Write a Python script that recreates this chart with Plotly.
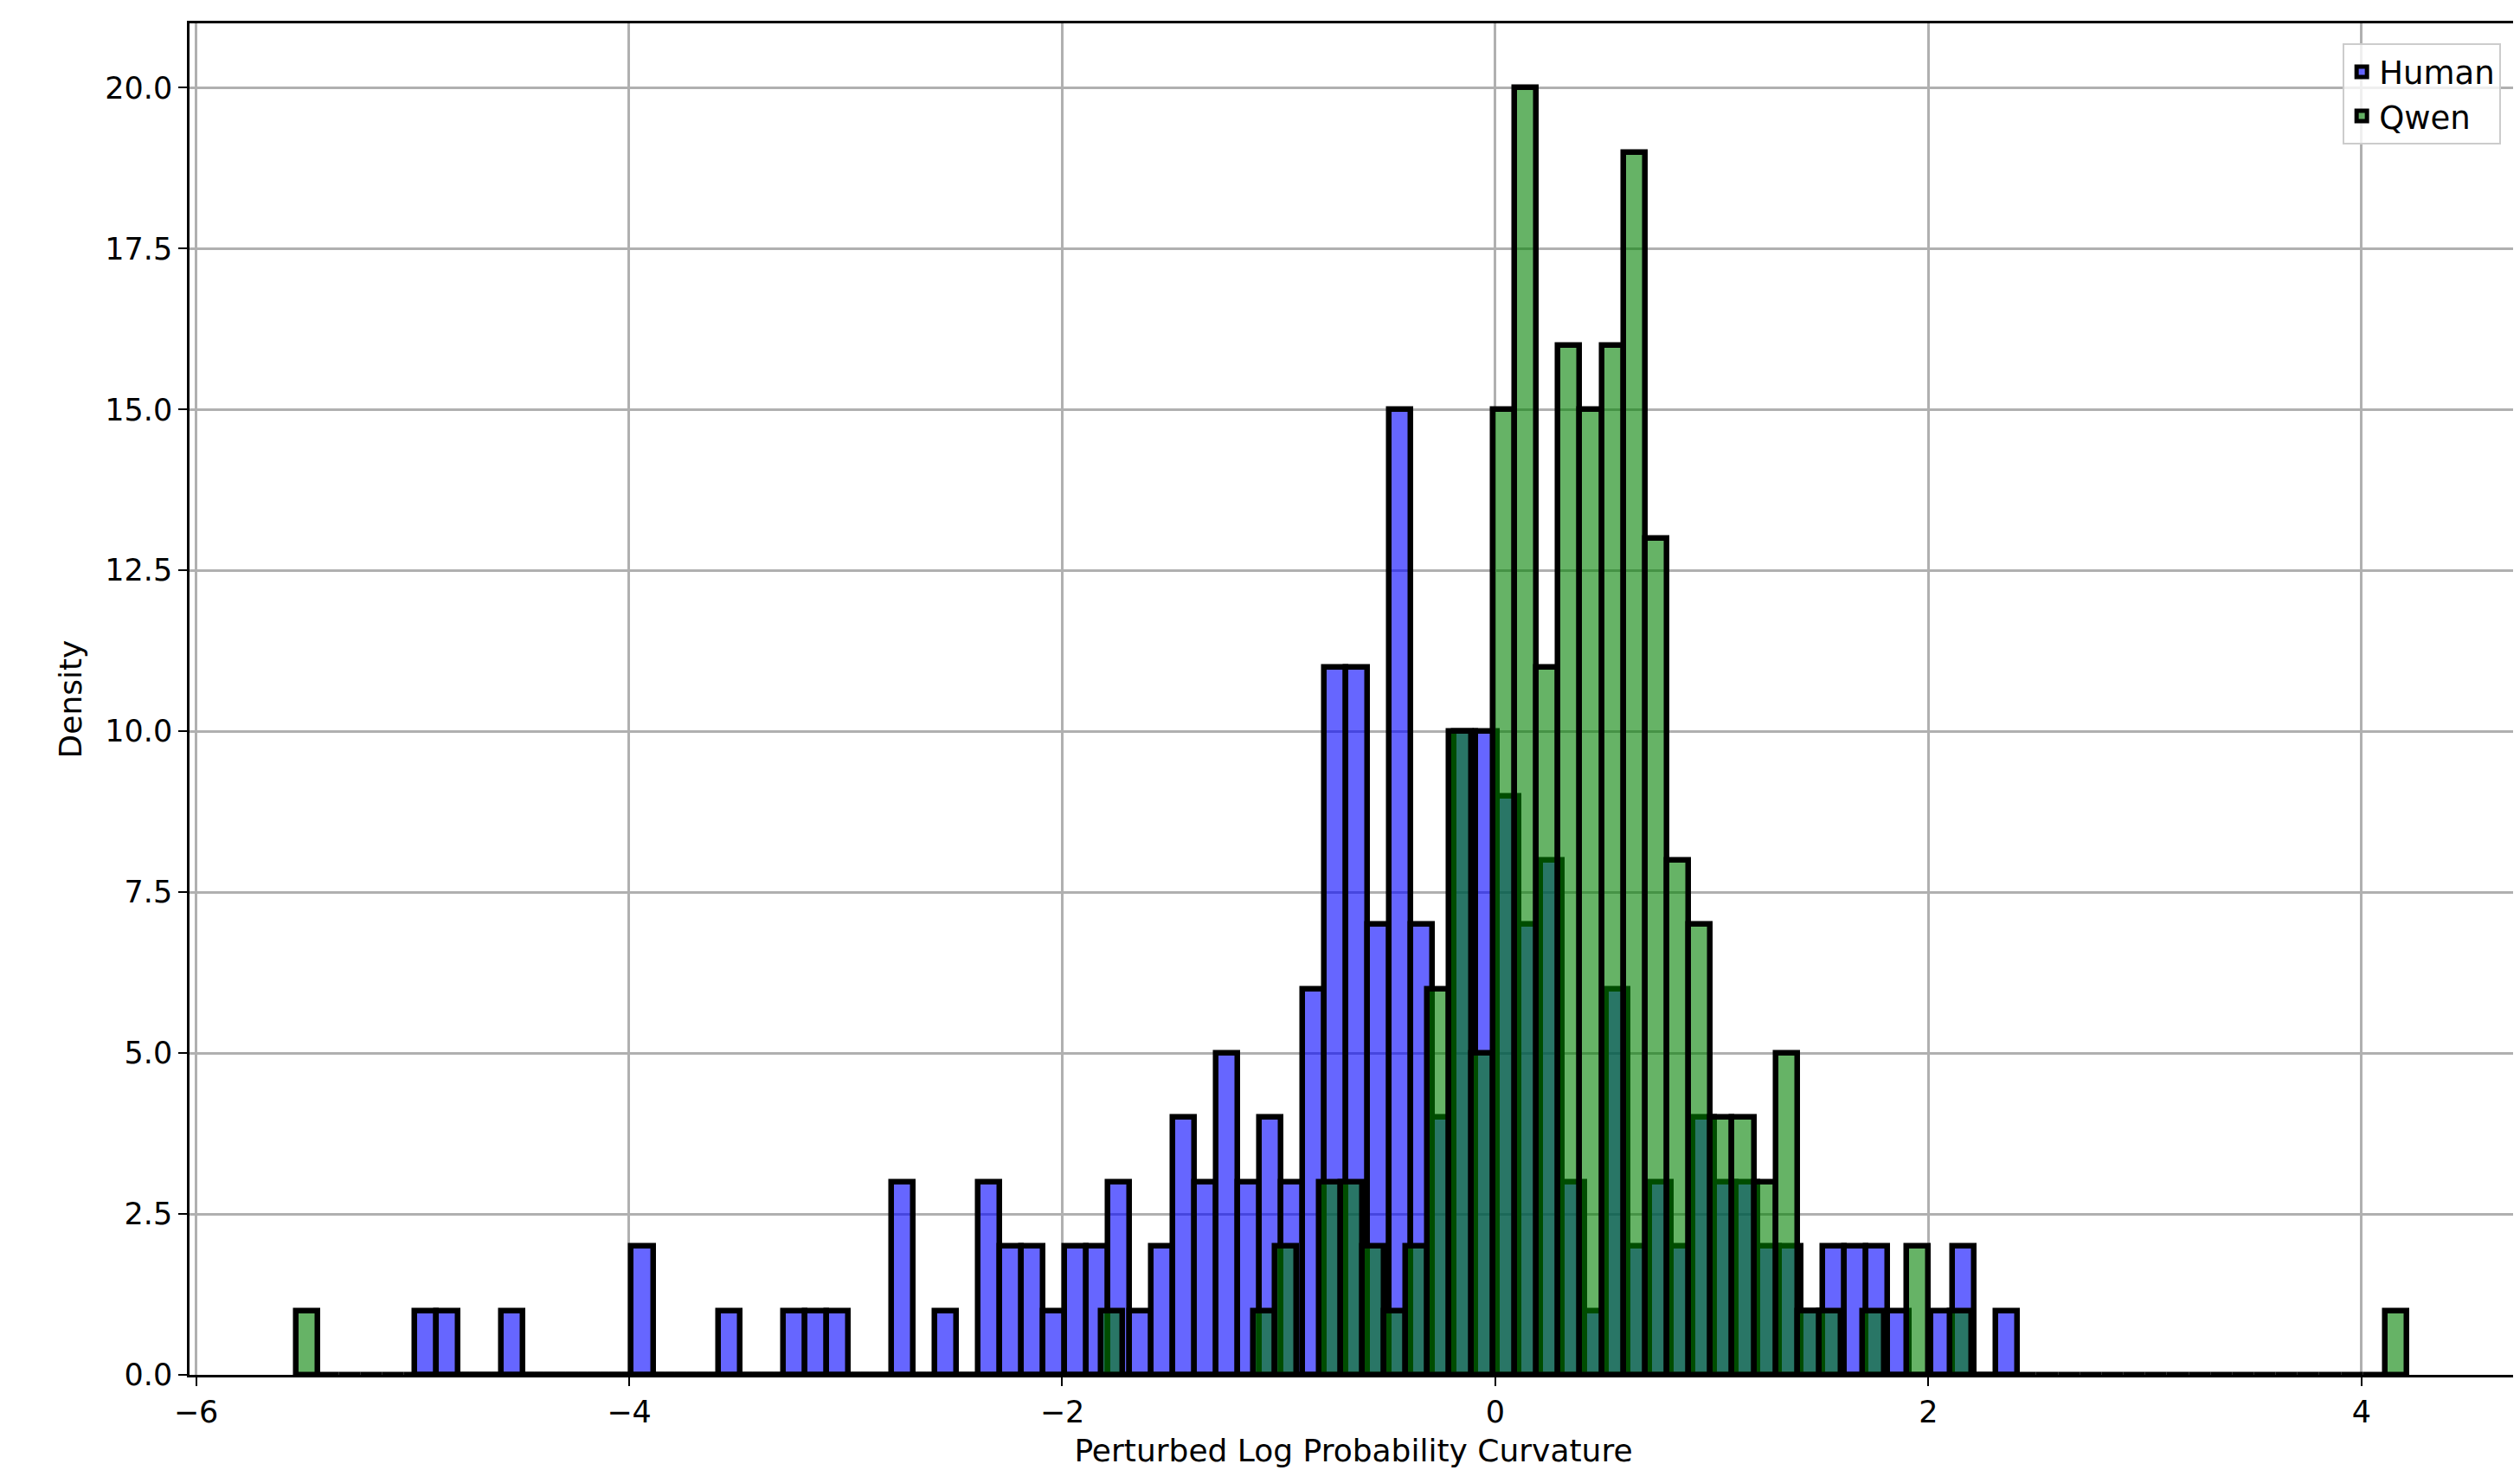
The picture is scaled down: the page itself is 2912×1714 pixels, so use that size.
import plotly.graph_objects as go

# Human histogram: bin start, width, counts
human_start = -4.99
human_width = 0.1
human_counts = [1, 1, 0, 0, 1, 0, 0, 0, 0, 0, 2, 0, 0, 0, 1, 0, 0, 1, 1, 1,
                0, 0, 3, 0, 1, 0, 3, 2, 2, 1, 2, 2, 3, 1, 2, 4, 3, 5, 3, 4,
                3, 6, 11, 11, 7, 15, 7, 4, 10, 10, 9, 7, 8, 3, 1, 6, 2, 3, 2, 4,
                3, 3, 2, 2, 1, 2, 2, 2, 1, 0, 1, 2, 0, 1]

# Qwen histogram
qwen_start = -5.54
qwen_width = 0.1005
qwen_nonzero = {0: 1, 37: 1, 44: 1, 45: 2, 47: 3, 48: 3, 49: 2, 50: 1, 51: 2, 52: 6,
                53: 10, 54: 5, 55: 15, 56: 20, 57: 11, 58: 16, 59: 15, 60: 16, 61: 19,
                62: 13, 63: 8, 64: 7, 65: 4, 66: 4, 67: 3, 68: 5, 69: 1, 70: 1, 72: 1,
                74: 2, 76: 1, 96: 1}
qwen_counts = [qwen_nonzero.get(i, 0) for i in range(97)]

x_ticks = [-6, -4, -2, 0, 2, 4]
y_ticks = [0, 2.5, 5, 7.5, 10, 12.5, 15, 17.5, 20]

def centers(start, width, n):
    return [start + width * (i + 0.5) for i in range(n)]

fig = go.Figure()
fig.add_trace(go.Bar(
    x=centers(human_start, human_width, len(human_counts)), y=human_counts,
    width=human_width, name="Human",
    marker=dict(color="rgba(0,0,255,0.6)", line=dict(color="black", width=6.5)),
))
fig.add_trace(go.Bar(
    x=centers(qwen_start, qwen_width, len(qwen_counts)), y=qwen_counts,
    width=qwen_width, name="Qwen",
    marker=dict(color="rgba(0,128,0,0.6)", line=dict(color="black", width=6.5)),
))

axis_common = dict(showline=True, linecolor="black", linewidth=2.5, mirror=True,
                   ticks="outside", tickcolor="black", ticklen=10, tickwidth=2,
                   showgrid=True, gridcolor="#b0b0b0", gridwidth=2.5, zeroline=False,
                   tickfont=dict(size=35, color="black"))
fig.update_layout(
    width=2912, height=1714,
    barmode="overlay", bargap=0,
    paper_bgcolor="white", plot_bgcolor="white",
    font=dict(family="DejaVu Sans", size=35, color="black"),
    margin=dict(l=211, r=8, t=19, b=133),
    xaxis=dict(range=[-6.03, 4.72], tickvals=x_ticks, ticktext=["\u2212" + str(-v) if v < 0 else str(v) for v in x_ticks],
               title=dict(text="Perturbed Log Probability Curvature", font=dict(size=36), standoff=14),
               **axis_common),
    yaxis=dict(range=[0, 21], tickvals=y_ticks, ticktext=[f"{v:.1f}" for v in y_ticks],
               title=dict(text="Density", font=dict(size=36), standoff=16),
               **axis_common),
    legend=dict(x=0.993, y=0.985, xanchor="right", yanchor="top",
                bgcolor="rgba(255,255,255,0.8)", bordercolor="#cccccc", borderwidth=2,
                font=dict(size=37), tracegroupgap=8),
)
fig.write_html("out.html")
